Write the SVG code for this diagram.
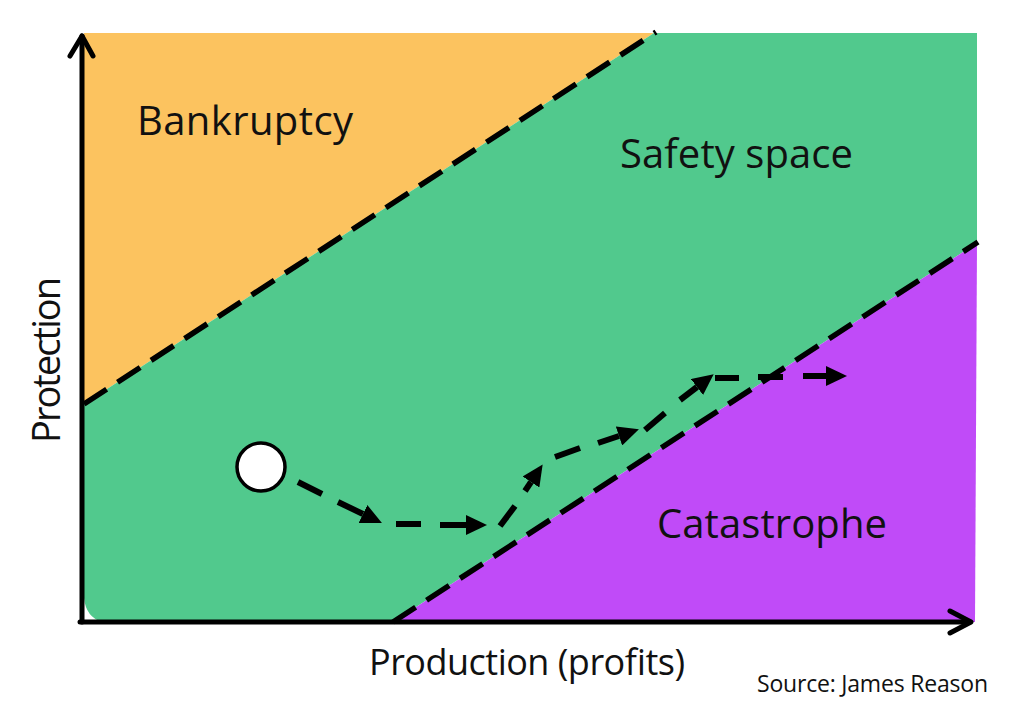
<svg xmlns="http://www.w3.org/2000/svg" width="1028" height="711" viewBox="0 0 1028 711">
<style>
.lbl{font-family:"Open Sans","Noto Sans","Liberation Sans",sans-serif;fill:#111}
.bound{fill:none;stroke:#000;stroke-width:5.5;stroke-dasharray:27 13}
.axis{fill:none;stroke:#000;stroke-width:5;stroke-linecap:round;stroke-linejoin:round}
.dash{fill:none;stroke:#000;stroke-width:6}
</style>
<defs>
<marker id="head" markerUnits="userSpaceOnUse" markerWidth="21" markerHeight="20" viewBox="0 0 21 20" refX="0" refY="10" orient="auto">
<path d="M0,0 L21,10 L0,20 Z" fill="#000"/>
</marker>
</defs>
<rect width="1028" height="711" fill="#fff"/>
<g id="bankruptcy">
<polygon points="84,33 654,33 84,404" fill="#FCC35F"/>
<text class="lbl" x="137" y="135" font-size="40" textLength="216">Bankruptcy</text>
</g>
<g id="safety-space">
<polygon points="84,404 654,33 977,33 977,243 393,622 84,622" fill="#51C98D"/>
<path d="M84,598 Q86,617 102,622 L84,622 Z" fill="#fff"/>
<text class="lbl" x="620" y="168" font-size="40" textLength="233">Safety space</text>
</g>
<g id="catastrophe">
<polygon points="393,622 977,243 975,622" fill="#C04BF8"/>
<text class="lbl" x="657" y="538" font-size="40" textLength="230">Catastrophe</text>
</g>
<g id="boundaries">
<line class="bound" x1="84" y1="404" x2="656" y2="32"/>
<line class="bound" x1="393" y1="622" x2="978" y2="242"/>
</g>
<g id="axes">
<line class="axis" x1="82" y1="622" x2="82" y2="36"/>
<polyline class="axis" points="70,56 82,36 93,56"/>
<line class="axis" x1="80" y1="622" x2="970" y2="622"/>
<polyline class="axis" points="950,611 971,622 950,633"/>
<text class="lbl" transform="translate(60,443) rotate(-90)" font-size="38" textLength="166">Protection</text>
<text class="lbl" x="369" y="675" font-size="36" textLength="316">Production (profits)</text>
<text class="lbl" x="757" y="692" font-size="23" textLength="231">Source: James Reason</text>
</g>
<g id="start">
<circle cx="261" cy="467" r="24" fill="#fff" stroke="#000" stroke-width="3.5"/>
</g>
<g id="connectors">
<line class="dash" x1="298" y1="482" x2="322" y2="494"/>
<line class="dash" x1="338" y1="502" x2="363" y2="514" marker-end="url(#head)"/>
<line class="dash" x1="396" y1="524" x2="421" y2="524"/>
<line class="dash" x1="440" y1="525" x2="466" y2="525" marker-end="url(#head)"/>
<line class="dash" x1="500" y1="526" x2="515" y2="506"/>
<line class="dash" x1="525" y1="491" x2="531" y2="482" marker-end="url(#head)"/>
<line class="dash" x1="555" y1="457" x2="580" y2="448"/>
<line class="dash" x1="598" y1="443" x2="619" y2="436" marker-end="url(#head)"/>
<line class="dash" x1="645" y1="430" x2="665" y2="413"/>
<line class="dash" x1="680" y1="400" x2="697" y2="387" marker-end="url(#head)"/>
<line class="dash" x1="715" y1="378" x2="739" y2="378"/>
<line class="dash" x1="758" y1="377" x2="783" y2="377"/>
<line class="dash" x1="803" y1="376" x2="826" y2="376" marker-end="url(#head)"/>
</g>
</svg>
